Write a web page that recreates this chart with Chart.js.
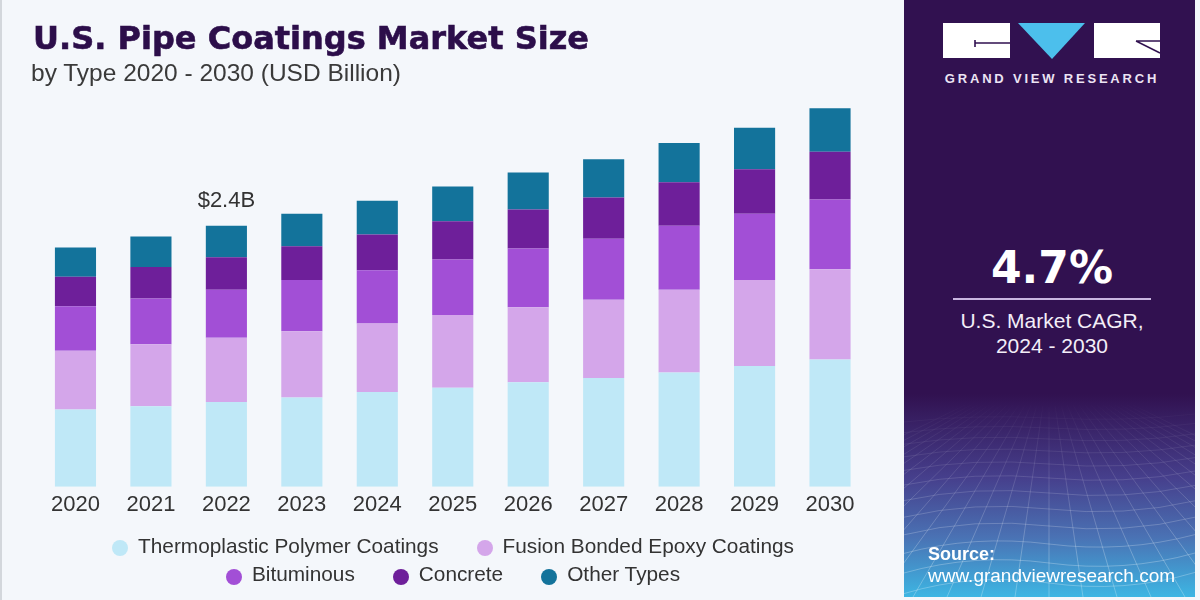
<!DOCTYPE html>
<html>
<head>
<meta charset="utf-8">
<script src="https://cdn.jsdelivr.net/npm/chart.js@4.4.1/dist/chart.umd.min.js"></script>
<style>
html,body{margin:0;padding:0;}
body{width:1200px;height:600px;position:relative;overflow:hidden;background:#f4f7fb;font-family:"Liberation Sans",Arial,sans-serif;}
#edge{position:absolute;left:0;top:0;width:2px;height:600px;background:#d3d7dc;}
#chartWrap{position:absolute;left:0;top:0;width:904px;height:600px;}
.t{position:absolute;white-space:nowrap;line-height:1;}
#title{left:33px;top:22px;font-weight:bold;font-size:32px;font-family:"DejaVu Sans",sans-serif;color:#2c0e4a;-webkit-text-stroke:0.6px #2c0e4a;}
#sub{left:31px;top:61.3px;font-size:24.5px;color:#3a3a3a;}
#legend{position:absolute;left:103px;top:531.5px;width:700px;display:flex;flex-wrap:wrap;justify-content:center;column-gap:38px;}
.li{display:flex;align-items:center;height:28.7px;line-height:28.7px;font-size:20.8px;color:#333;white-space:nowrap;}
.dot{width:16px;height:16px;border-radius:50%;margin-right:10px;position:relative;top:2px;flex:none;}
#panel{position:absolute;left:904px;top:0;width:291px;height:597px;background:#311150;overflow:hidden;}
#panel svg{position:absolute;left:0;top:0;}
.pc{left:0;width:296px;text-align:center;}
#gvr{top:72.3px;font-weight:bold;font-size:13px;letter-spacing:2.8px;color:#ece4f4;}
#cagr{top:246.1px;font-weight:bold;font-size:44px;font-family:"DejaVu Sans",sans-serif;color:#ffffff;}
#cagrLbl1{top:310.2px;font-size:21px;color:#f3eef8;}
#cagrLbl2{top:335.2px;font-size:21px;color:#f3eef8;}
#src1{left:24px;top:544.8px;font-weight:bold;font-size:18px;color:#ffffff;}
#src2{left:24px;top:565.5px;font-size:19px;color:#ffffff;}
</style>
</head>
<body>
<div id="edge"></div>
<div id="chartWrap"><canvas id="c" width="904" height="600"></canvas></div>
<div class="t" id="title">U.S. Pipe Coatings Market Size</div>
<div class="t" id="sub">by Type 2020 - 2030 (USD Billion)</div>
<div id="legend"></div>

<div id="panel">
  <svg width="291" height="597" viewBox="0 0 291 597">
    <defs>
      <linearGradient id="bg" x1="0" y1="0" x2="0" y2="597" gradientUnits="userSpaceOnUse">
        <stop offset="0" stop-color="#311150"/>
        <stop offset="0.66" stop-color="#311150"/>
        <stop offset="0.80" stop-color="#463f8c"/>
        <stop offset="0.90" stop-color="#4a72b4"/>
        <stop offset="1" stop-color="#3db6e3"/>
      </linearGradient>
      <linearGradient id="fade" x1="0" y1="400" x2="0" y2="560" gradientUnits="userSpaceOnUse">
        <stop offset="0" stop-color="#fff" stop-opacity="0"/>
        <stop offset="1" stop-color="#fff" stop-opacity="1"/>
      </linearGradient>
      <mask id="m"><rect x="0" y="0" width="291" height="597" fill="url(#fade)"/></mask>
    </defs>
    <rect x="0" y="0" width="291" height="597" fill="url(#bg)"/>
    <g id="grid" mask="url(#m)" stroke="#ffffff" stroke-opacity="0.26" stroke-width="1" fill="none"></g>
    <!-- logo -->
    <rect x="39" y="23" width="67" height="35" fill="#ffffff"/>
    <polygon points="114,23 181,23 148,59" fill="#4cbfec"/>
    <rect x="190" y="23" width="66" height="35" fill="#ffffff"/>
    <path d="M71 43 H106 M71 40 V47" stroke="#311150" stroke-width="1.6" fill="none"/>
    <path d="M232 41 H256 M232 41 L256 53" stroke="#311150" stroke-width="1.4" fill="none"/>
    <line x1="49" y1="299" x2="247" y2="299" stroke="#c9b6e0" stroke-width="2"/>
  </svg>
  <div class="t pc" id="gvr">GRAND VIEW RESEARCH</div>
  <div class="t pc" id="cagr">4.7%</div>
  <div class="t pc" id="cagrLbl1">U.S. Market CAGR,</div>
  <div class="t pc" id="cagrLbl2">2024 - 2030</div>
  <div class="t" id="src1">Source:</div>
  <div class="t" id="src2">www.grandviewresearch.com</div>
</div>

<script>
// ---- data (USD Billion) ----
const years = ['2020','2021','2022','2023','2024','2025','2026','2027','2028','2029','2030'];
const thermoplasticPolymer = [0.71,0.74,0.78,0.82,0.87,0.91,0.96,1.00,1.05,1.11,1.17];
const fusionBondedEpoxy    = [0.54,0.57,0.59,0.61,0.63,0.67,0.69,0.72,0.76,0.79,0.83];
const bituminous           = [0.41,0.42,0.44,0.47,0.49,0.51,0.54,0.56,0.59,0.61,0.64];
const concrete             = [0.27,0.29,0.30,0.31,0.33,0.35,0.36,0.38,0.40,0.41,0.44];
const otherTypes           = [0.27,0.28,0.29,0.30,0.31,0.32,0.34,0.35,0.36,0.38,0.40];
const seriesNames = ['Thermoplastic Polymer Coatings','Fusion Bonded Epoxy Coatings','Bituminous','Concrete','Other Types'];
const seriesColors = ['#bfe8f7','#d4a6ea','#a24fd6','#6e1f9a','#13739b'];
const annotatedYear = '2022';

const seriesData = [thermoplasticPolymer, fusionBondedEpoxy, bituminous, concrete, otherTypes];

// HTML legend
const legendEl = document.getElementById('legend');
seriesNames.forEach((name, k) => {
  const item = document.createElement('div');
  item.className = 'li';
  const dot = document.createElement('span');
  dot.className = 'dot';
  dot.style.background = seriesColors[k];
  const txt = document.createElement('span');
  txt.textContent = name;
  item.appendChild(dot); item.appendChild(txt);
  legendEl.appendChild(item);
});

// decorative perspective grid in the side panel
(function(){
  const g = document.getElementById('grid');
  const ns = 'http://www.w3.org/2000/svg';
  const hy = [418,428,439,451,464,478,493,509,526,544,563,583];
  hy.forEach((y,i) => {
    const p = document.createElementNS(ns,'path');
    const w = 4 + i*0.6;
    p.setAttribute('d', `M0 ${y+w} Q 70 ${y-w} 145 ${y} T 291 ${y-w}`);
    g.appendChild(p);
  });
  for (let k = -14; k <= 14; k++) {
    const l = document.createElementNS(ns,'line');
    l.setAttribute('x1', 145 + k*6); l.setAttribute('y1', 405);
    l.setAttribute('x2', 145 + k*34); l.setAttribute('y2', 597);
    g.appendChild(l);
  }
})();

const totalLabel = {
  id: 'totalLabel',
  afterDatasetsDraw(chart) {
    const i = years.indexOf(annotatedYear);
    const total = chart.data.datasets.reduce((s, d) => s + d.data[i], 0);
    const x = chart.scales.x.getPixelForValue(i);
    const y = chart.scales.y.getPixelForValue(total);
    const ctx = chart.ctx;
    ctx.save();
    ctx.font = '22px "Liberation Sans", Arial, sans-serif';
    ctx.fillStyle = '#333333';
    ctx.textAlign = 'center';
    ctx.textBaseline = 'alphabetic';
    ctx.fillText('$' + total.toFixed(1) + 'B', x, y - 19);
    ctx.restore();
  }
};

new Chart(document.getElementById('c'), {
  type: 'bar',
  data: {
    labels: years,
    datasets: seriesData.map((d, k) => ({
      label: seriesNames[k],
      data: d,
      backgroundColor: seriesColors[k],
      borderWidth: 0,
      barPercentage: 0.545,
      categoryPercentage: 1
    }))
  },
  options: {
    responsive: false,
    animation: false,
    events: [],
    layout: { padding: { left: 37.75, right: 36.25, top: 95.2, bottom: 73.3 } },
    plugins: { legend: { display: false }, tooltip: { enabled: false } },
    scales: {
      x: {
        stacked: true,
        grid: { display: false, drawTicks: false },
        border: { display: false },
        ticks: { padding: 5, color: '#333333', font: { family: '"Liberation Sans", Arial, sans-serif', size: 22 } },
        afterFit(s) { s.height = 40; }
      },
      y: { stacked: true, display: false, min: 0, max: 3.6 }
    }
  },
  plugins: [totalLabel]
});
</script>
</body>
</html>
